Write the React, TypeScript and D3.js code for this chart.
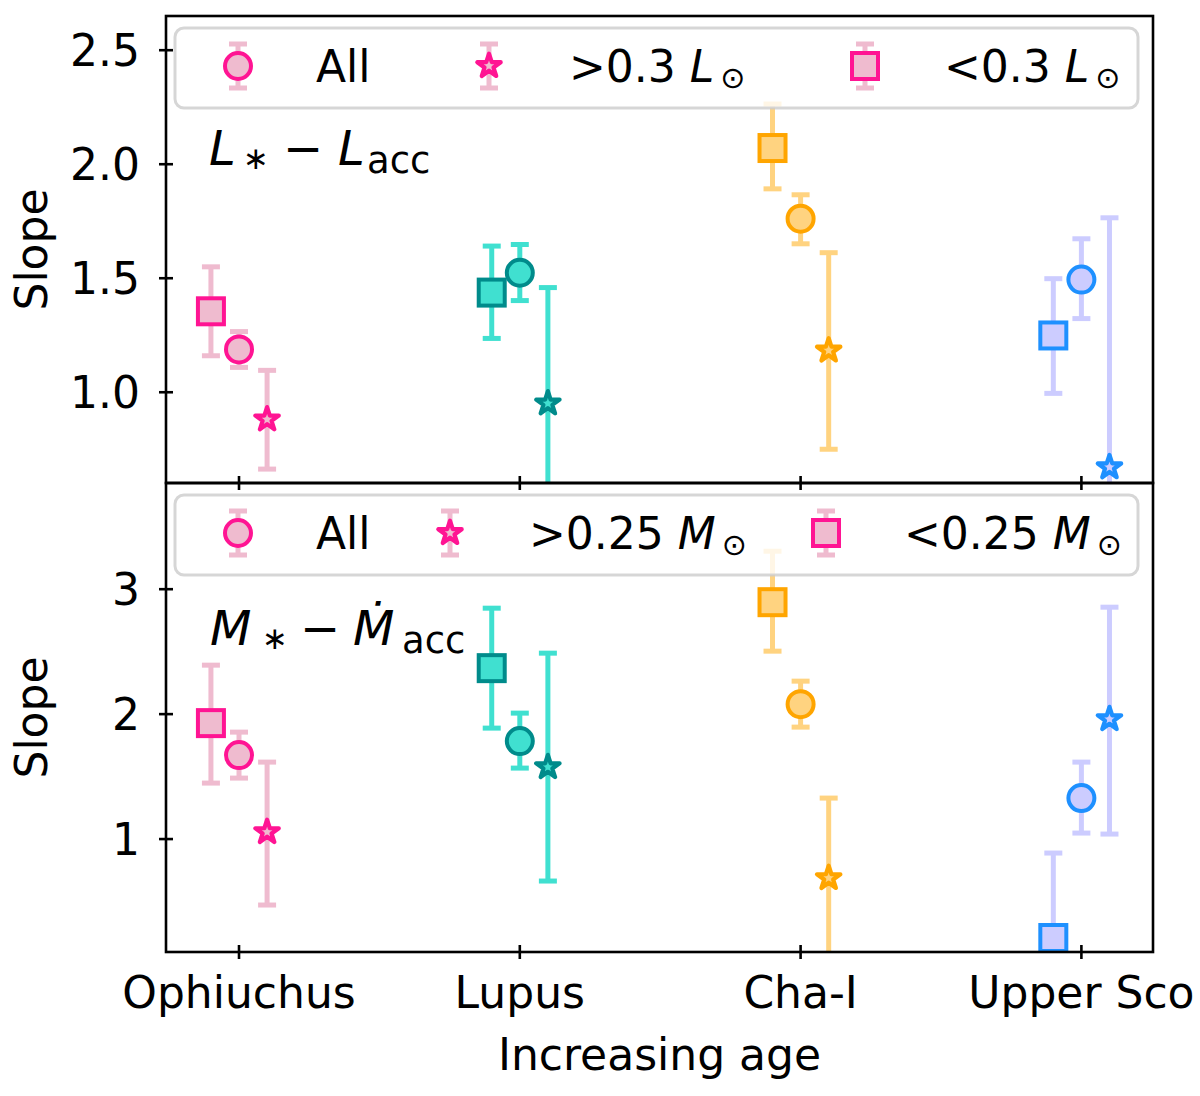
import React from "react";
import * as d3 from "d3";

// ---------- data ----------
const regions = ["Ophiuchus", "Lupus", "Cha-I", "Upper Sco"];
const faceColors = ["#efbbcf", "#40e0d0", "#ffd380", "#ccccff"];
const edgeColors = ["#ff1493", "#008b8b", "#ffa500", "#1e90ff"];

// Top panel: L* - Lacc slopes
const lumAllVal = [1.188, 1.524, 1.761, 1.494];
const lumAllHi = [1.266, 1.648, 1.866, 1.673];
const lumAllLo = [1.109, 1.402, 1.651, 1.323];
const lumHighVal = [0.881, 0.951, 1.183, 0.671];
const lumHighHi = [1.096, 1.459, 1.612, 1.765];
const lumHighLo = [0.663, 0.443, 0.75, -0.42];
const lumLowVal = [1.355, 1.437, 2.071, 1.249];
const lumLowHi = [1.55, 1.641, 2.264, 1.498];
const lumLowLo = [1.16, 1.236, 1.892, 0.995];

// Bottom panel: M* - Macc slopes
const massAllVal = [1.672, 1.784, 2.08, 1.328];
const massAllHi = [1.856, 2.008, 2.264, 1.616];
const massAllLo = [1.488, 1.568, 1.896, 1.048];
const massHighVal = [1.056, 1.576, 0.688, 1.96];
const massHighHi = [1.616, 2.488, 1.328, 2.856];
const massHighLo = [0.472, 0.664, 0.048, 1.04];
const massLowVal = [1.928, 2.368, 2.896, 0.208];
const massLowHi = [2.392, 2.848, 3.304, 0.888];
const massLowLo = [1.448, 1.888, 2.504, -0.47];

const lumTicks = [1.0, 1.5, 2.0, 2.5];
const massTicks = [1, 2, 3];

// ---------- layout ----------
const W = 1200;
const H = 1096;
const left = 166;
const right = 1153;
const topY0 = 16;
const midY = 483;
const botY1 = 952;
const FONT = "'DejaVu Sans', 'Liberation Sans', sans-serif";
const FS = 44;
const SUB = 30;
const AFS = 48;
const ASUB = 37;
const ASTAR = 31;

const x = d3.scaleLinear().domain([-0.26, 3.255]).range([left, right]);
const yTop = d3.scaleLinear().domain([0.602, 2.65]).range([midY, topY0]);
const yBot = d3.scaleLinear().domain([0.096, 3.85]).range([botY1, midY]);

type Shape = "circle" | "star" | "square";

function starPath(R: number): string {
  const inner = R * 0.381966;
  const pts: [number, number][] = [];
  for (let i = 0; i < 10; i++) {
    const a = (-90 + i * 36) * (Math.PI / 180);
    const r = i % 2 === 0 ? R : inner;
    pts.push([r * Math.cos(a), r * Math.sin(a)]);
  }
  return d3.line()(pts) + "Z";
}

function Marker({ shape, cx, cy, face, edge }: { shape: Shape; cx: number; cy: number; face: string; edge: string }) {
  if (shape === "circle")
    return <circle cx={cx} cy={cy} r={13} fill={face} stroke={edge} strokeWidth={4} />;
  if (shape === "square")
    return <rect x={cx - 13} y={cy - 13} width={26} height={26} fill={face} stroke={edge} strokeWidth={4} />;
  return (
    <path d={starPath(12.3)} transform={`translate(${cx},${cy})`} fill={face} stroke={edge} strokeWidth={4.2} strokeLinejoin="round" />
  );
}

function ErrBar({ cx, y1, y2, color }: { cx: number; y1: number; y2: number; color: string }) {
  return (
    <g stroke={color} strokeWidth={5}>
      <line x1={cx} x2={cx} y1={y1} y2={y2} />
      <line x1={cx - 9} x2={cx + 9} y1={y1} y2={y1} />
      <line x1={cx - 9} x2={cx + 9} y1={y2} y2={y2} />
    </g>
  );
}

type Series = { shape: Shape; offset: number; val: number[]; hi: number[]; lo: number[] };

const lumSeries: Series[] = [
  { shape: "square", offset: -0.1, val: lumLowVal, hi: lumLowHi, lo: lumLowLo },
  { shape: "circle", offset: 0, val: lumAllVal, hi: lumAllHi, lo: lumAllLo },
  { shape: "star", offset: 0.1, val: lumHighVal, hi: lumHighHi, lo: lumHighLo },
];
const massSeries: Series[] = [
  { shape: "square", offset: -0.1, val: massLowVal, hi: massLowHi, lo: massLowLo },
  { shape: "circle", offset: 0, val: massAllVal, hi: massAllHi, lo: massAllLo },
  { shape: "star", offset: 0.1, val: massHighVal, hi: massHighHi, lo: massHighLo },
];

function PanelData({ series, y, clip }: { series: Series[]; y: d3.ScaleLinear<number, number>; clip: string }) {
  return (
    <g clipPath={`url(#${clip})`}>
      {series.map((s, si) =>
        regions.map((_, ri) => (
          <g key={`${si}-${ri}`}>
            <ErrBar cx={x(ri + s.offset)} y1={y(s.hi[ri])} y2={y(s.lo[ri])} color={faceColors[ri]} />
            <Marker shape={s.shape} cx={x(ri + s.offset)} cy={y(s.val[ri])} face={faceColors[ri]} edge={edgeColors[ri]} />
          </g>
        ))
      )}
    </g>
  );
}

function LegendEntry({ shape, mx, cy }: { shape: Shape; mx: number; cy: number }) {
  return (
    <g>
      <ErrBar cx={mx} y1={cy - 22} y2={cy + 22} color={faceColors[0]} />
      <Marker shape={shape} cx={mx} cy={cy} face={faceColors[0]} edge={edgeColors[0]} />
    </g>
  );
}

function Legend({ top, sym, thr }: { top: number; sym: string; thr: string }) {
  const cy = top + 38;
  const base = top + 54;
  const isMass = sym === "M";
  const starX = isMass ? 450 : 489;
  const starTextX = isMass ? 533 : 573;
  const sqX = isMass ? 826 : 865;
  const sqTextX = isMass ? 908 : 948;
  return (
    <g>
      <rect x={175} y={top} width={963} height={80} rx={9} fill="white" fillOpacity={0.8} stroke="#cccccc" strokeOpacity={0.8} strokeWidth={3} />
      <LegendEntry shape="circle" mx={238} cy={cy} />
      <text x={316} y={base} fontSize={FS}>All</text>
      <LegendEntry shape="star" mx={starX} cy={cy} />
      <text x={starTextX - 4} y={base} fontSize={FS}>
        {`>${thr} `}
        <tspan fontStyle="italic">{sym}</tspan>
        <tspan fontSize={SUB} dx={6} dy={6}>⊙</tspan>
      </text>
      <LegendEntry shape="square" mx={sqX} cy={cy} />
      <text x={sqTextX - 4} y={base} fontSize={FS}>
        {`<${thr} `}
        <tspan fontStyle="italic">{sym}</tspan>
        <tspan fontSize={SUB} dx={6} dy={6}>⊙</tspan>
      </text>
    </g>
  );
}

function YAxis({ y, ticks, fmt }: { y: d3.ScaleLinear<number, number>; ticks: number[]; fmt: (v: number) => string }) {
  return (
    <g>
      {ticks.map((t) => (
        <g key={t}>
          <line x1={left - 7} x2={left + 7} y1={y(t)} y2={y(t)} stroke="black" strokeWidth={2.6} />
          <text x={140} y={y(t)} dy="0.36em" textAnchor="end" fontSize={FS}>{fmt(t)}</text>
        </g>
      ))}
    </g>
  );
}

function XTicks({ yPos }: { yPos: number }) {
  return (
    <g>
      {regions.map((_, i) => (
        <line key={i} x1={x(i)} x2={x(i)} y1={yPos - 7} y2={yPos + 7} stroke="black" strokeWidth={2.6} />
      ))}
    </g>
  );
}

export default function App() {
  return (
    <svg width={W} height={H} viewBox={`0 0 ${W} ${H}`} style={{ position: "absolute", left: 0, top: 0, display: "block", background: "white" }} fontFamily={FONT}>
      <defs>
        <clipPath id="clipTop">
          <rect x={left} y={topY0} width={right - left} height={midY - topY0} />
        </clipPath>
        <clipPath id="clipBot">
          <rect x={left} y={midY} width={right - left} height={botY1 - midY} />
        </clipPath>
      </defs>
      <rect x={0} y={0} width={W} height={H} fill="white" />

      {/* data */}
      <PanelData series={lumSeries} y={yTop} clip="clipTop" />
      <PanelData series={massSeries} y={yBot} clip="clipBot" />

      {/* annotations */}
      <text y={165} fontSize={AFS}>
        <tspan x={209} fontStyle="italic">L</tspan>
        <tspan x={243} fontSize={ASTAR} dy={4}>∗</tspan>
        <tspan x={283} dy={-4}>−</tspan>
        <tspan x={338} fontStyle="italic">L</tspan>
        <tspan x={367} fontSize={ASUB} dy={8}>acc</tspan>
      </text>
      <text y={645} fontSize={AFS}>
        <tspan x={210} fontStyle="italic">M</tspan>
        <tspan x={262} fontSize={ASTAR} dy={4}>∗</tspan>
        <tspan x={300} dy={-4}>−</tspan>
        <tspan x={353} fontStyle="italic">Ṁ</tspan>
        <tspan x={402} fontSize={ASUB} dy={8}>acc</tspan>
      </text>

      {/* legends */}
      <Legend top={28} sym="L" thr="0.3" />
      <Legend top={495} sym="M" thr="0.25" />

      {/* axes */}
      <rect x={left} y={topY0} width={right - left} height={midY - topY0} fill="none" stroke="black" strokeWidth={2.6} />
      <rect x={left} y={midY} width={right - left} height={botY1 - midY} fill="none" stroke="black" strokeWidth={2.6} />
      <YAxis y={yTop} ticks={lumTicks} fmt={d3.format(".1f")} />
      <YAxis y={yBot} ticks={massTicks} fmt={d3.format("d")} />
      <XTicks yPos={midY} />
      <XTicks yPos={botY1} />
      {regions.map((r, i) => (
        <text key={r} x={x(i)} y={1008} textAnchor="middle" fontSize={FS}>{r}</text>
      ))}
      <text x={(left + right) / 2} y={1070} textAnchor="middle" fontSize={FS}>Increasing age</text>
      <text transform={`translate(47,${(topY0 + midY) / 2}) rotate(-90)`} textAnchor="middle" fontSize={FS}>Slope</text>
      <text transform={`translate(47,${(midY + botY1) / 2}) rotate(-90)`} textAnchor="middle" fontSize={FS}>Slope</text>
    </svg>
  );
}
